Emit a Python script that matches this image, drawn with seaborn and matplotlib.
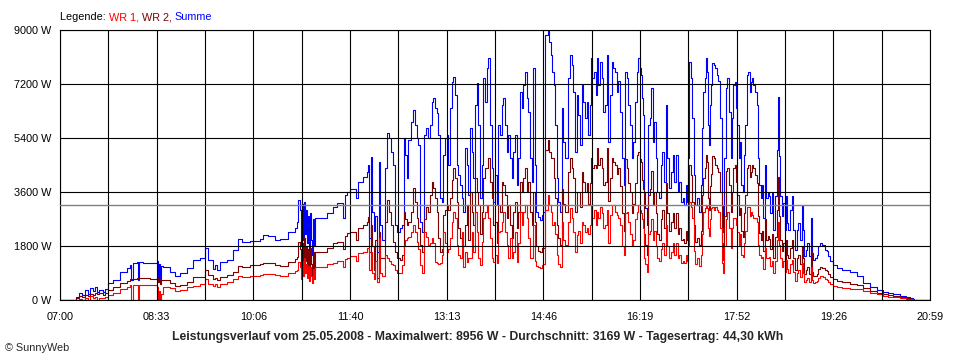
import numpy as np
import pandas as pd
import seaborn as sns
import matplotlib.pyplot as plt

# Minuten seit 07:00 und Leistung in W
minutes = [
    0.0, 12.5, 15.4, 18.3, 21.2, 24.1, 27.0, 28.9, 31.8, 33.8,
    35.7, 37.6, 41.5, 43.4, 46.3, 51.1, 57.9, 64.6, 67.5, 68.5,
    70.4, 74.3, 75.2, 76.2, 80.0, 86.8, 93.5, 94.5, 95.5, 96.4,
    97.4, 99.3, 106.1, 110.9, 115.7, 122.5, 128.3, 135.0, 139.8, 142.7,
    147.5, 149.5, 151.4, 154.3, 161.0, 166.8, 171.7, 175.5, 183.2, 192.9,
    195.8, 200.6, 207.3, 212.2, 219.9, 226.6, 228.6, 229.5, 231.4, 232.4,
    233.4, 234.3, 235.3, 236.3, 237.2, 238.2, 239.2, 240.1, 241.1, 242.1,
    243.0, 244.0, 244.9, 245.9, 250.7, 257.5, 263.3, 267.1, 272.9, 274.8,
    276.8, 279.7, 285.5, 287.4, 292.2, 296.1, 297.0, 298.0, 299.9, 300.9,
    302.8, 303.8, 305.7, 307.6, 308.6, 310.5, 313.4, 315.3, 317.3, 319.2,
    321.1, 323.1, 325.0, 327.9, 329.8, 331.7, 332.7, 334.6, 335.6, 338.5,
    340.4, 342.4, 344.3, 345.2, 347.2, 349.1, 351.0, 353.0, 354.9, 356.8,
    358.7, 359.7, 361.6, 363.6, 364.5, 366.5, 368.4, 369.4, 371.3, 373.2,
    374.2, 376.1, 378.0, 379.0, 380.9, 382.9, 383.8, 385.7, 387.7, 388.6,
    390.6, 392.5, 393.5, 395.4, 397.3, 398.3, 400.2, 402.1, 403.1, 405.0,
    407.0, 407.9, 409.9, 411.8, 412.8, 414.7, 416.6, 417.6, 419.5, 421.4,
    422.4, 424.3, 426.3, 427.2, 429.1, 431.1, 432.0, 434.0, 435.9, 436.9,
    438.8, 440.7, 441.7, 443.6, 445.5, 446.5, 448.4, 450.4, 451.3, 453.3,
    455.2, 456.1, 458.1, 459.0, 461.0, 462.9, 464.8, 465.8, 467.7, 470.6,
    471.6, 473.5, 474.5, 476.4, 477.4, 479.3, 480.3, 482.2, 484.1, 485.1,
    487.0, 489.9, 491.8, 493.8, 494.7, 496.7, 498.6, 499.5, 501.5, 503.4,
    504.4, 506.3, 508.2, 509.2, 511.1, 512.1, 513.0, 515.0, 516.9, 517.9,
    518.8, 520.8, 522.7, 523.6, 525.6, 527.5, 528.5, 530.4, 532.3, 533.3,
    535.2, 537.2, 538.1, 540.0, 542.0, 543.9, 544.9, 546.8, 547.8, 549.7,
    551.6, 552.6, 554.5, 556.4, 557.4, 559.3, 560.3, 561.3, 562.2, 563.2,
    564.2, 566.1, 567.0, 569.0, 569.9, 571.9, 572.8, 574.8, 575.7, 577.7,
    579.6, 580.6, 582.5, 584.4, 585.4, 587.3, 589.2, 591.2, 592.1, 594.1,
    596.0, 596.9, 598.9, 600.8, 601.8, 603.7, 604.7, 605.6, 606.6, 608.5,
    609.5, 611.4, 612.4, 614.3, 616.2, 618.2, 619.1, 620.1, 622.0, 623.0,
    623.9, 624.9, 625.9, 626.8, 627.8, 628.8, 630.7, 631.7, 633.6, 634.5,
    636.5, 638.4, 639.4, 640.3, 642.3, 643.2, 645.2, 647.1, 648.1, 649.0,
    650.9, 651.9, 652.9, 654.8, 655.8, 656.7, 658.7, 659.6, 660.6, 662.5,
    663.5, 665.4, 666.4, 667.3, 668.3, 670.2, 672.2, 673.1, 674.1, 676.0,
    677.0, 678.0, 679.9, 680.9, 682.8, 683.7, 684.7, 686.6, 687.6, 689.5,
    691.5, 692.4, 693.4, 694.3, 696.3, 697.2, 699.2, 700.1, 701.1, 702.1,
    704.0, 705.9, 706.9, 708.8, 710.7, 711.7, 713.6, 715.6, 716.5, 717.5,
    719.4, 720.4, 722.3, 724.2, 725.2, 726.2, 728.1, 730.0, 731.0, 732.9,
    734.8, 735.8, 737.7, 739.7, 740.6, 742.6, 745.5, 749.3, 754.1, 761.9,
    768.6, 774.4, 781.1, 787.9, 793.7, 798.5, 803.3, 810.1, 815.9, 819.7,
    822.6, 823.6, 839.0,
]

summe = [
    0, 0, 100, 220, 180, 330, 200, 400, 300, 420,
    280, 350, 280, 380, 555, 670, 945, 1060, 1170, 670,
    1230, 1280, 670, 1280, 1220, 1220, 1310, 720, 1200, 700,
    1150, 1110, 945, 800, 890, 1055, 1333, 1390, 1720, 1333,
    1020, 1170, 990, 1280, 1333, 1667, 2033, 1945, 1980, 2020,
    2170, 2140, 2000, 2020, 2280, 2390, 2610, 3333, 3000, 1800,
    3200, 2000, 3280, 2200, 3000, 1900, 2800, 1700, 2900, 2000,
    1500, 2700, 1800, 2720, 2745, 2890, 3110, 3220, 2745, 3500,
    3610, 3700, 3390, 3945, 4110, 4280, 4500, 2055, 4780, 2940,
    2300, 2800, 1610, 4610, 2500, 2000, 4390, 5555, 5390, 4945,
    4500, 2500, 2280, 2390, 2500, 5390, 4830, 4055, 5330, 5945,
    6330, 5830, 5390, 5165, 2610, 2280, 5500, 5720, 5390, 5830,
    6610, 6720, 6390, 6220, 5500, 3390, 3280, 4830, 5390, 5500,
    4500, 6390, 7280, 7445, 6830, 4500, 4170, 3830, 3390, 2945,
    5055, 4500, 3500, 5720, 4945, 4055, 6500, 7220, 5830, 3390,
    4500, 7390, 6610, 7720, 8055, 5830, 4390, 3280, 4170, 3165,
    5830, 5500, 6500, 6720, 5830, 4945, 5500, 4720, 4055, 4945,
    5500, 3830, 4720, 6945, 6390, 7165, 7610, 6720, 6280, 4720,
    3945, 7720, 4500, 2945, 2780, 2670, 2830, 2945, 8830, 8956,
    8610, 8165, 7610, 7165, 5830, 4055, 3280, 2945, 6390, 5280,
    4720, 7390, 8165, 7830, 6945, 4945, 6830, 6170, 5165, 7165,
    6610, 6055, 6610, 5500, 6500, 8055, 7390, 7610, 6830, 8055,
    7165, 7945, 7390, 6280, 6500, 8165, 5280, 6830, 7945, 7720,
    7610, 6945, 7300, 6280, 4720, 3830, 7610, 7390, 6500, 5830,
    4720, 5280, 6610, 7610, 8055, 7720, 7500, 6720, 6170, 3610,
    3055, 2500, 5830, 6055, 7055, 5280, 5945, 4720, 3610, 3390,
    4500, 4945, 3945, 6500, 4720, 3720, 4280, 4830, 3945, 4830,
    3610, 3945, 3280, 3390, 3165, 3830, 3280, 4720, 7945, 7390,
    6055, 4170, 3165, 3390, 2945, 3830, 5720, 6945, 7390, 8055,
    7610, 5830, 5165, 6500, 7165, 7890, 7830, 7720, 7500, 7300,
    6055, 3165, 2280, 4720, 7055, 7390, 6280, 4720, 6055, 7165,
    7280, 6390, 5830, 4720, 5280, 3830, 3610, 4830, 5830, 7500,
    7610, 6945, 7280, 7390, 7165, 6945, 6500, 4720, 3830, 3390,
    3830, 2720, 4500, 3390, 3610, 3455, 2900, 3570, 2345, 3455,
    5010, 6780, 4790, 3455, 2790, 3235, 2345, 3455, 2570, 2345,
    3010, 3455, 2345, 1680, 2345, 2570, 2010, 3120, 2345, 1455,
    1680, 1900, 1455, 2730, 1570, 1345, 1400, 1510, 1790, 1900,
    1845, 1845, 1680, 1620, 1455, 1290, 1180, 1065, 1010, 925,
    790, 565, 430, 345, 260, 230, 190, 145, 110, 80,
    20, 0, 0,
]

wr2 = [
    0, 0, 60, 120, 100, 180, 150, 200, 180, 220,
    200, 240, 180, 230, 330, 420, 580, 650, 690, 690,
    700, 720, 720, 720, 720, 690, 745, 600, 700, 550,
    680, 667, 555, 470, 500, 610, 755, 780, 1000, 830,
    690, 720, 667, 755, 833, 945, 1133, 1090, 1167, 1200,
    1230, 1240, 1167, 1150, 1280, 1367, 1445, 1945, 1700, 1000,
    1900, 1100, 2055, 1300, 1800, 1000, 1700, 900, 1750, 1200,
    700, 1600, 1000, 1610, 1600, 1720, 1890, 1950, 1700, 2150,
    2220, 2280, 2000, 2400, 2500, 2610, 2780, 1610, 2500, 1800,
    1000, 2000, 720, 2280, 1400, 1400, 2600, 3330, 2945, 2500,
    1945, 1600, 1390, 1335, 1500, 2945, 2700, 2500, 2600, 2945,
    3720, 3280, 2720, 2400, 1835, 1610, 2700, 3100, 2945, 3500,
    3945, 3720, 3400, 2945, 2055, 1610, 1700, 2830, 3000, 3165,
    3000, 3390, 4000, 4390, 4055, 3280, 2390, 2055, 1800, 1800,
    2500, 3165, 2000, 3610, 2945, 2500, 4055, 3610, 3165, 2200,
    2945, 4055, 4390, 4390, 4720, 3945, 3390, 2500, 2600, 1900,
    3165, 2945, 3945, 3830, 3500, 2720, 3165, 2500, 2055, 2945,
    3280, 2390, 2945, 3945, 3610, 4055, 4390, 3610, 3945, 2945,
    2500, 3610, 2600, 1800, 1650, 1600, 1720, 1750, 5000, 5330,
    4945, 4720, 4720, 4055, 3390, 2500, 2055, 1835, 3700, 3200,
    2945, 4280, 4720, 4390, 4055, 2945, 3610, 3600, 3100, 4280,
    3945, 3610, 3900, 3200, 3900, 4720, 4390, 4500, 4390, 5055,
    4500, 4720, 4390, 3830, 3945, 5055, 3300, 4055, 4720, 4600,
    4500, 4200, 4390, 3800, 2900, 2300, 4700, 4400, 3900, 3600,
    2900, 3200, 3900, 4830, 4945, 4700, 4600, 4000, 3700, 2200,
    1835, 1500, 3500, 3700, 4300, 3200, 3600, 2900, 2200, 2000,
    2700, 3000, 2400, 3900, 2900, 2300, 2600, 2900, 2400, 2900,
    2200, 2400, 2000, 2050, 1900, 2300, 2000, 2900, 4500, 4170,
    3280, 2500, 1950, 2055, 1835, 2300, 3500, 4055, 4390, 4830,
    4610, 3400, 3000, 3800, 4200, 4800, 4720, 4500, 4390, 4280,
    3600, 1900, 1350, 2800, 4300, 4390, 3830, 2945, 3610, 4390,
    4500, 3945, 3500, 2830, 3055, 2300, 2100, 2900, 3500, 4390,
    4500, 4100, 4280, 4500, 4390, 4170, 3900, 2800, 2250, 2000,
    2300, 1650, 2700, 2000, 2150, 2050, 1700, 2200, 1400, 2100,
    3000, 4100, 2800, 2000, 1650, 1900, 1350, 2000, 1500, 1400,
    1750, 2000, 1400, 1000, 1400, 1500, 1200, 1800, 1400, 870,
    1000, 1100, 870, 1600, 930, 790, 810, 870, 1050, 1100,
    1070, 1080, 990, 955, 860, 760, 700, 630, 595, 545,
    500, 400, 310, 250, 190, 165, 130, 100, 75, 50,
    15, 0, 0,
]

wr1 = [
    0, 0, 0, 40, 0, 60, 0, 120, 60, 100,
    0, 80, 60, 100, 167, 250, 370, 420, 500, 0,
    500, 500, 0, 500, 500, 500, 444, 0, 300, 0,
    200, 430, 390, 310, 330, 420, 467, 520, 690, 550,
    467, 520, 420, 530, 610, 690, 800, 780, 790, 845,
    860, 870, 830, 800, 890, 960, 1000, 1280, 1100, 700,
    1300, 800, 1390, 900, 1200, 750, 1150, 650, 1100, 800,
    560, 1050, 700, 1110, 1110, 1190, 1245, 1290, 1100, 1380,
    1410, 1460, 1300, 1560, 1610, 1720, 1720, 1000, 1600, 900,
    700, 1300, 610, 2055, 900, 800, 1500, 1400, 1300, 1200,
    1165, 1000, 890, 890, 1165, 1835, 2000, 2055, 2100, 2280,
    2500, 2280, 1945, 1700, 1165, 890, 2280, 2100, 1835, 1900,
    2055, 1900, 1280, 1250, 1200, 1220, 1500, 2280, 1900, 1610,
    1700, 2055, 2600, 2945, 2720, 1835, 1500, 1390, 2280, 1100,
    1610, 1280, 1400, 1390, 2280, 1600, 2945, 2280, 1390, 1165,
    1945, 2720, 2945, 3165, 2720, 2055, 1390, 1280, 1500, 1250,
    2280, 2300, 2610, 2945, 2280, 1835, 1390, 2055, 1390, 1610,
    2280, 1280, 1900, 2945, 2500, 2945, 3165, 2720, 2055, 1390,
    1400, 2500, 1300, 1150, 1100, 1080, 1165, 1200, 3000, 3500,
    3165, 2945, 2500, 2600, 2200, 1500, 1200, 1100, 2600, 2000,
    1835, 2610, 3055, 2720, 2280, 1610, 2170, 2300, 1900, 2610,
    2500, 2280, 2400, 2200, 2500, 3165, 2720, 3000, 2500, 2945,
    2720, 3100, 2900, 2400, 2500, 3000, 1900, 2830, 3165, 3165,
    2945, 2830, 2720, 2500, 1800, 1500, 2900, 2945, 2600, 2200,
    1800, 2000, 2700, 2945, 3165, 3000, 2900, 2700, 2400, 1390,
    1200, 945, 2200, 2300, 2700, 2000, 2300, 1800, 1400, 1300,
    1700, 1900, 1500, 2500, 1800, 1400, 1600, 1900, 1500, 1900,
    1400, 1500, 1250, 1300, 1250, 1500, 1300, 1800, 3280, 3100,
    2720, 1650, 1200, 1390, 1150, 1500, 2200, 2945, 3055, 3165,
    3055, 2400, 2150, 2700, 3055, 3100, 3000, 3100, 3000, 2950,
    2400, 1250, 900, 1800, 2700, 2950, 2390, 1750, 2400, 2750,
    2720, 2500, 2280, 1835, 2200, 1500, 1450, 1900, 2300, 3100,
    3100, 2800, 2950, 2830, 2720, 2750, 2600, 1835, 1500, 1390,
    1450, 1050, 1750, 1390, 1400, 1450, 1150, 1300, 900, 1300,
    2010, 2600, 1850, 1400, 1100, 1300, 950, 1350, 1050, 900,
    1200, 1350, 950, 650, 900, 1000, 780, 1250, 900, 600,
    680, 750, 600, 1100, 680, 560, 590, 640, 720, 790,
    790, 770, 690, 665, 595, 530, 480, 435, 415, 380,
    360, 290, 225, 190, 140, 115, 90, 65, 45, 30,
    10, 0, 0,
]

tick_labels = ['07:00', '08:33', '10:06', '11:40', '13:13',
               '14:46', '16:19', '17:52', '19:26', '20:59']
y_ticks = [0, 1800, 3600, 5400, 7200, 9000]
mittelwert = 3169
titel = ('Leistungsverlauf vom 25.05.2008 - Maximalwert: 8956 W - '
         'Durchschnitt: 3169 W - Tagesertrag: 44,30 kWh')
legende = [('Legende: ', 'black'), ('WR 1, ', '#ff0000'),
           ('WR 2, ', '#800000'), ('Summe', '#0000ff')]

assert len(minutes) == len(summe) == len(wr2) == len(wr1)

df = pd.DataFrame({'min': minutes, 'Summe': summe, 'WR 2': wr2, 'WR 1': wr1})

sns.set_style('white')
plt.rcParams['font.family'] = ['Liberation Sans', 'DejaVu Sans']

fig = plt.figure(figsize=(9.6, 3.6), dpi=100)
ax = fig.add_axes([60 / 960, 60 / 360, 870 / 960, 270 / 360])

for col, color in [('Summe', '#0000ff'), ('WR 2', '#800000'), ('WR 1', '#ff0000')]:
    sns.lineplot(data=df, x='min', y=col, ax=ax, color=color, lw=0.8,
                 drawstyle='steps-post', sort=False, estimator=None, legend=False)

ax.axhline(mittelwert, color='#808080', lw=1, zorder=3)

# Achsen und Gitter
t_end = 839
ax.set_xlim(0, t_end)
ax.set_ylim(0, 9000)
ax.set_xticks(np.linspace(0, t_end, len(tick_labels)))
ax.set_xticklabels(tick_labels)
ax.set_xticks(np.linspace(0, t_end, 2 * len(tick_labels) - 1), minor=True)
ax.set_yticks(y_ticks)
ax.set_yticklabels([f'{v} W' for v in y_ticks])
ax.set_xlabel('')
ax.set_ylabel('')
ax.set_axisbelow(False)
ax.grid(True, which='both', color='black', lw=0.8)
ax.tick_params(which='both', direction='out', length=4, width=0.8,
               color='black', labelsize=7.8, pad=2, labelcolor='black')
ax.tick_params(axis='x', pad=5)
for s in ax.spines.values():
    s.set_color('black')
    s.set_linewidth(0.8)
    s.set_visible(True)

fig.text(0.498, 1 - 337 / 360, titel, ha='center', va='center',
         fontsize=8.8, fontweight='bold')
fig.text(5 / 960, 1 - 348 / 360, '\u00a9 SunnyWeb', ha='left', va='center', fontsize=7.8)

renderer = fig.canvas.get_renderer()
x0 = 60 / 960
for text, color in legende:
    t = fig.text(x0, 1 - 17 / 360, text, color=color, fontsize=7.8, ha='left', va='center')
    x0 += t.get_window_extent(renderer).width / fig.bbox.width

fig.savefig('out.png', dpi=100)
